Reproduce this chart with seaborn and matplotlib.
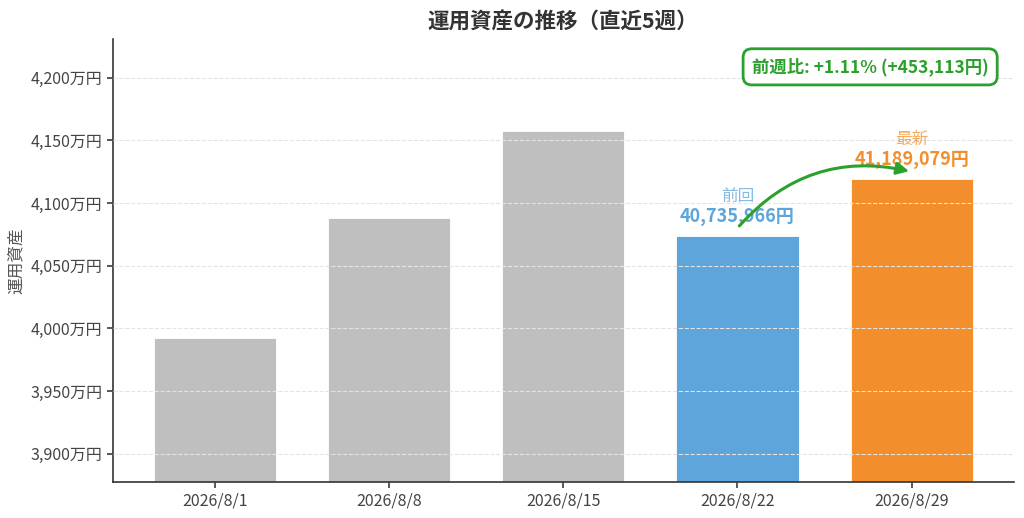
import numpy as np
import pandas as pd
import matplotlib
matplotlib.use('Agg')
import matplotlib.pyplot as plt
import seaborn as sns
from matplotlib.ticker import FuncFormatter

# data (yen)
dates = ['2026/8/1', '2026/8/8', '2026/8/15', '2026/8/22', '2026/8/29']
values = [39923000, 40884000, 41572000, 40735966, 41189079]
bar_colors = ['#bfbfbf', '#bfbfbf', '#bfbfbf', '#5da5da', '#f28e2b']

prev_val = values[-2]
last_val = values[-1]
diff = last_val - prev_val
pct = diff / prev_val * 100

sns.set_theme(style='white')
plt.rcParams['font.family'] = ['Noto Sans CJK JP', 'DejaVu Sans']
plt.rcParams['axes.unicode_minus'] = False

df = pd.DataFrame({'date': dates, 'value': values})

fig, ax = plt.subplots(figsize=(10.24, 5.18), dpi=100)
sns.barplot(data=df, x='date', y='value', hue='date', palette=bar_colors,
            legend=False, width=0.7, ax=ax, saturation=1)
for p in ax.patches:
    p.set_edgecolor('white')
    p.set_linewidth(0.6)

ax.set_ylim(38777000, 42310000)
ax.set_xlim(-0.585, 4.585)
ax.yaxis.set_major_formatter(FuncFormatter(lambda v, pos: f'{v/10000:,.0f}万円'))
ax.grid(axis='y', linestyle='--', color='#e4e4e4', linewidth=0.8)
ax.set_axisbelow(False)
for s in ['top', 'right']:
    ax.spines[s].set_visible(False)
for s in ['left', 'bottom']:
    ax.spines[s].set_color('#333333')
    ax.spines[s].set_linewidth(1.2)
ax.tick_params(axis='both', colors='#444444', labelsize=11.5, length=4, left=True, bottom=True)
ax.set_xlabel('')
ax.set_ylabel('運用資産', fontsize=12, color='#555555')
ax.set_title('運用資産の推移（直近5週）', fontsize=15.5, fontweight='bold', color='#333333', pad=8)

# labels for last two bars
ax.text(3, prev_val + 80000, f'{prev_val:,}円', ha='center', va='bottom',
        fontsize=13, fontweight='bold', color='#5da5da')
ax.text(3, prev_val + 250000, '前回', ha='center', va='bottom',
        fontsize=12, color='#5da5da', alpha=0.75)
ax.text(4, last_val + 80000, f'{last_val:,}円', ha='center', va='bottom',
        fontsize=13, fontweight='bold', color='#f28e2b')
ax.text(4, last_val + 250000, '最新', ha='center', va='bottom',
        fontsize=12, color='#f28e2b', alpha=0.75)

ax.annotate('', xy=(4.0, last_val + 60000), xytext=(3.0, prev_val + 65000),
            arrowprops=dict(arrowstyle='-|>', color='#2ca02c', lw=2.2,
                            mutation_scale=18,
                            connectionstyle='arc3,rad=-0.3'))

ax.text(0.972, 0.958, f'前週比: +{pct:.2f}% (+{diff:,}円)', transform=ax.transAxes,
        ha='right', va='top', fontsize=12.5, fontweight='bold', color='#2ca02c',
        bbox=dict(boxstyle='round,pad=0.5', facecolor='white', edgecolor='#2ca02c', linewidth=2))

plt.subplots_adjust(left=0.11, right=0.99, top=0.925, bottom=0.07)
plt.savefig('out.png', dpi=100)
